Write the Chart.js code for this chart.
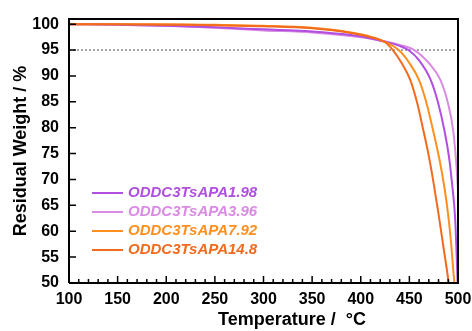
<!DOCTYPE html>
<html lang="en">
  <head>
    <meta charset="UTF-8" />
    <title>TGA</title>
    <script src="https://cdn.jsdelivr.net/npm/chart.js"></script>
    <style>
      html, body { margin: 0; padding: 0; background: #fff; }
      .graph { width: 472px; height: 331px; }
    </style>
  </head>
  <body>
    <div class="graph">
      <canvas id="myChartTga"></canvas>
    </div>
  <script>

    // legenda / séries
    const seriesLabels = ["ODDC3TsAPA1.98", "ODDC3TsAPA3.96", "ODDC3TsAPA7.92", "ODDC3TsAPA14.8"];
    const seriesColors = ["#b04fe0", "#d98be3", "#ff8f1f", "#f26a1c"];

    // temperatura (°C) e massa residual (%)
    const temp198 = [100, 150, 200, 250, 300, 350, 390, 410, 426, 440, 449, 460, 472, 480, 486, 491, 494, 497, 498.5, 499.5, 500];
    const wt198   = [100, 99.9, 99.7, 99.4, 99.0, 98.6, 97.9, 97.3, 96.6, 95.8, 95.0, 93.0, 89.2, 84.5, 79.5, 74.0, 69.0, 62.7, 56.0, 50.6, 49];

    const temp396 = [100, 150, 200, 250, 300, 350, 390, 410, 426, 440, 455, 470, 482, 490, 495, 498, 500];
    const wt396   = [100, 99.9, 99.7, 99.3, 98.8, 98.4, 97.7, 97.2, 96.6, 96.0, 95.0, 92.5, 89.2, 84.5, 79.5, 73.7, 68.0];

    const temp792 = [100, 150, 200, 250, 300, 350, 390, 410, 425, 439, 450, 460, 468, 474, 481, 486, 490, 493, 496, 497];
    const wt792   = [100, 100, 100, 99.9, 99.7, 99.3, 98.4, 97.6, 96.6, 95.0, 92.5, 89.2, 84.5, 79.8, 73.8, 68.5, 63.0, 57.5, 50.6, 49];

    const temp148 = [100, 150, 200, 250, 300, 350, 390, 410, 425, 433, 442, 451, 458, 464, 470, 475, 480, 485, 490, 491];
    const wt148   = [100, 100, 99.9, 99.8, 99.6, 99.2, 98.3, 97.5, 96.5, 95.0, 92.5, 89.2, 84.8, 79.8, 74.5, 69.2, 63.3, 57.0, 50.6, 49];

    const refTemp = [100, 500];
    const refWt = [95, 95];

    const xTicks = [100, 150, 200, 250, 300, 350, 400, 450, 500];

    function pares(xs, ys) {
        var pts = [];
        for (var i = 0; i < xs.length; i++) {
            pts.push({ x: xs[i], y: ys[i] });
        }
        return pts;
    }

    const series = [
        pares(temp198, wt198),
        pares(temp396, wt396),
        pares(temp792, wt792),
        pares(temp148, wt148)
    ];
    const drawOrder = [3, 4, 2, 1];

    var datasets = [];
    for (var i = 0; i < series.length; i++) {
        datasets.push({
            label: seriesLabels[i],
            data: series[i],
            borderColor: seriesColors[i],
            borderWidth: 2,
            pointRadius: 0,
            cubicInterpolationMode: "monotone",
            clip: 0,
            order: drawOrder[i]
        });
    }
    datasets.push({
        label: "ref",
        data: pares(refTemp, refWt),
        borderColor: "#8a8a8a",
        borderWidth: 1.5,
        borderDash: [2, 2],
        pointRadius: 0,
        order: 10
    });

    // moldura, ticks internos, legenda e títulos dos eixos
    const extras = {
        id: "extras",
        afterDraw(chart) {
            const ctx = chart.ctx;
            const a = chart.chartArea;
            const sx = chart.scales.x;
            const sy = chart.scales.y;
            ctx.save();
            ctx.strokeStyle = "#000";
            ctx.lineWidth = 2;
            ctx.beginPath();
            ctx.moveTo(a.left, a.bottom);
            ctx.lineTo(a.left, a.top);
            ctx.lineTo(a.right, a.top);
            ctx.lineTo(a.right, a.bottom);
            ctx.lineTo(a.left, a.bottom);
            ctx.stroke();

            ctx.lineWidth = 1.5;
            ctx.beginPath();
            for (var t = 100; t <= 500; t += 10) {
                var px = sx.getPixelForValue(t);
                var len = (t % 50 === 0) ? 7 : 4;
                ctx.moveTo(px, a.bottom);
                ctx.lineTo(px, a.bottom - len);
            }
            for (var w = 55; w <= 100; w += 5) {
                var py = sy.getPixelForValue(w);
                ctx.moveTo(a.left, py);
                ctx.lineTo(a.left + 7, py);
            }
            ctx.stroke();

            // legenda
            ctx.font = "italic bold 15px 'Liberation Sans', Arial, sans-serif";
            ctx.textBaseline = "middle";
            ctx.textAlign = "left";
            const legY = [193, 212, 231, 250];
            for (var k = 0; k < seriesLabels.length; k++) {
                ctx.strokeStyle = seriesColors[k];
                ctx.lineWidth = 2;
                ctx.beginPath();
                ctx.moveTo(92, legY[k]);
                ctx.lineTo(123, legY[k]);
                ctx.stroke();
                ctx.fillStyle = seriesColors[k];
                ctx.fillText(seriesLabels[k], 128, legY[k]);
            }

            // títulos
            ctx.fillStyle = "#000";
            ctx.font = "bold 18px 'Liberation Sans', Arial, sans-serif";
            ctx.textAlign = "center";
            ctx.fillText("Temperature /  \u00B0C", 292, 320);
            ctx.translate(21, (a.top + a.bottom) / 2);
            ctx.rotate(-Math.PI / 2);
            ctx.fillText("Residual Weight / %", 0, 0);
            ctx.restore();
        }
    };

    const tickFont = { family: "'Liberation Sans', Arial, sans-serif", size: 16, weight: "bold" };

    const configTga = {
        type: "line",
        data: { datasets: datasets },
        options: {
            responsive: true,
            maintainAspectRatio: false,
            animation: false,
            layout: { padding: { top: 19, right: 14, left: 0, bottom: 0 } },
            plugins: {
                legend: { display: false },
                tooltip: { enabled: false }
            },
            scales: {
                x: {
                    type: "linear",
                    min: 100,
                    max: 500,
                    afterBuildTicks: function (scale) {
                        scale.ticks = xTicks.map(function (v) { return { value: v }; });
                    },
                    afterFit: function (scale) {
                        scale.height = 48;
                        scale.paddingLeft = 0;
                        scale.paddingRight = 0;
                    },
                    grid: { display: false, drawTicks: false },
                    border: { display: false },
                    ticks: { font: tickFont, color: "#000", padding: 7, maxRotation: 0, autoSkip: false }
                },
                y: {
                    min: 50,
                    max: 101,
                    afterFit: function (scale) {
                        scale.width = 69;
                        scale.paddingTop = 0;
                        scale.paddingBottom = 0;
                    },
                    grid: { display: false, drawTicks: false },
                    border: { display: false },
                    ticks: { font: tickFont, color: "#000", padding: 10, stepSize: 5, includeBounds: false }
                }
            }
        },
        plugins: [extras]
    };

    var myChartTga = new Chart(document.getElementById("myChartTga"), configTga);

  </script>
  </body>
</html>
